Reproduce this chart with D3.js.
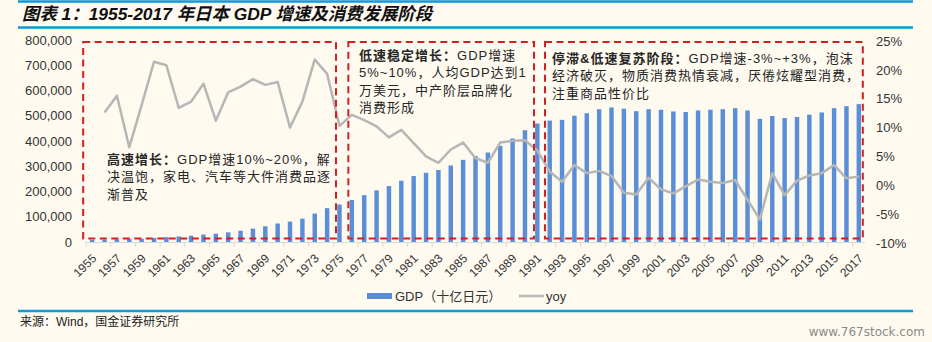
<!DOCTYPE html>
<html>
<head>
<meta charset="utf-8">
<script src="https://cdn.jsdelivr.net/npm/d3@7"></script>
<style>
  html, body { margin: 0; padding: 0; background: #fefaf0; }
  svg { display: block; font-family: 'Liberation Sans', 'Noto Sans CJK SC', sans-serif; }
  .axis-label { font-size: 13px; fill: #333; }
  .year-label { font-size: 12px; fill: #333; }
  .phase-text { font-size: 13px; fill: #262626; letter-spacing: 1px; }
</style>
</head>
<body>
<div id="chart"></div>
<script>
// Japan nominal GDP (billion yen) and its yearly growth rate
const years = [
  1955, 1956, 1957, 1958, 1959, 1960, 1961, 1962, 1963, 1964,
  1965, 1966, 1967, 1968, 1969, 1970, 1971, 1972, 1973, 1974,
  1975, 1976, 1977, 1978, 1979, 1980, 1981, 1982, 1983, 1984,
  1985, 1986, 1987, 1988, 1989, 1990, 1991, 1992, 1993, 1994,
  1995, 1996, 1997, 1998, 1999, 2000, 2001, 2002, 2003, 2004,
  2005, 2006, 2007, 2008, 2009, 2010, 2011, 2012, 2013, 2014,
  2015, 2016, 2017
];

const gdp = [
  8400, 9400, 10900, 11600, 13200, 16000, 19300, 21900, 25100, 29500,
  32900, 38200, 44700, 53000, 62200, 73300, 80700, 92400, 112500, 134200,
  148300, 166600, 185600, 204400, 221500, 242800, 261100, 274100, 285100, 303000,
  325400, 340600, 354200, 380700, 410100, 442800, 469400, 480800, 483700, 500000,
  510000, 526000, 533000, 528000, 518000, 526000, 524000, 517000, 515000, 521000,
  524000, 526000, 530000, 521000, 488000, 499000, 491000, 495000, 504000, 513000,
  530000, 538000, 546000
];

// growth in %, no value for the first year
const yoy = [
  null, 12.6, 15.5, 6.6, 13.9, 21.4, 20.8, 13.4, 14.5, 17.6,
  11.2, 16.1, 17.1, 18.4, 17.4, 17.9, 10.0, 14.5, 21.8, 19.3,
  10.3, 12.2, 11.3, 10.2, 8.3, 9.6, 7.3, 5.0, 3.9, 6.2,
  7.4, 4.7, 3.9, 7.4, 7.7, 7.8, 6.0, 2.4, 0.6, 3.5,
  2.1, 2.5, 1.6, -1.3, -1.6, 1.3, -0.7, -1.4, -0.2, 1.0,
  0.6, 0.4, 0.9, -2.5, -5.9, 2.1, -1.7, 0.8, 1.7, 2.1,
  3.5, 1.2, 1.5
];

const leftTicks = [0, 100000, 200000, 300000, 400000, 500000, 600000, 700000, 800000];
const rightTicks = [-10, -5, 0, 5, 10, 15, 20, 25];

// development phases
const phaseStart = [1955, 1976, 1992];
const phaseEnd = [1975, 1991, 2017];
const phaseTitle = ['高速增长：', '低速稳定增长：', '停滞&低速复苏阶段：'];
const phaseLines = [
  ['GDP增速10%~20%，解', '决温饱，家电、汽车等大件消费品逐', '渐普及'],
  ['GDP增速', '5%~10%，人均GDP达到1', '万美元，中产阶层品牌化', '消费形成'],
  ['GDP增速-3%~+3%，泡沫', '经济破灭，物质消费热情衰减，厌倦炫耀型消费，', '注重商品性价比']
];

const titleText = '图表 1：1955-2017 年日本 GDP 增速及消费发展阶段';
const sourceText = '来源：Wind，国金证券研究所';
const legendNames = ['GDP（十亿日元）', 'yoy'];

const width = 932;
const height = 342;
const plotLeft = 86;
const plotRight = 865;
const plotTop = 40;
const plotBottom = 242;

const barColor = '#5a8fd8';
const lineColor = '#b6b6b6';
const boxColor = '#d21f1f';
const ruleColor = '#0b9ad8';

// box edges relative to the first/last bar of each phase, text offsets
const boxPad = [[-9, -3.5], [-3.5, -3.3], [-4.7, 4]];
const boxTop = 42;
const boxBottom = 238.5;
const textPos = [[107, 159], [359, 55], [552, 58]];
const lineHeight = 17.5;

let svg = d3.select('#chart').append('svg')
  .attr('width', width)
  .attr('height', height)

svg.append('rect')
  .attr('width', width)
  .attr('height', height)
  .attr('fill', '#fefaf0')

// header
svg.append('line')
  .attr('x1', 18).attr('x2', 913)
  .attr('y1', 1.5).attr('y2', 1.5)
  .attr('stroke', ruleColor)
  .attr('stroke-width', 2.5)

svg.append('text')
  .attr('x', 22)
  .attr('y', 14)
  .attr('dy', '0.35em')
  .attr('font-size', 17.4)
  .attr('font-weight', 'bold')
  .attr('font-style', 'italic')
  .attr('fill', '#111')
  .text(titleText)

svg.append('line')
  .attr('x1', 18).attr('x2', 913)
  .attr('y1', 27.5).attr('y2', 27.5)
  .attr('stroke', ruleColor)
  .attr('stroke-width', 2.5)

let x = d3.scaleBand()
  .domain(years)
  .range([plotLeft, plotRight])
  .paddingInner(0.64)
  .paddingOuter(0.32)

let xc = d => x(d) + x.bandwidth() / 2;

let yLeft = d3.scaleLinear()
  .domain([0, 800000])
  .range([plotBottom, plotTop])

let yRight = d3.scaleLinear()
  .domain([-10, 25])
  .range([plotBottom + 1, plotTop + 1])

// axes
let leftAxis = svg.append('g')
  .attr('transform', `translate(${plotLeft - 14}, 0)`)
  .call(d3.axisLeft(yLeft).tickValues(leftTicks).tickSize(0).tickPadding(0)
    .tickFormat(d3.format(',')))
leftAxis.select('.domain').remove()
leftAxis.selectAll('text').attr('class', 'axis-label').attr('fill', null)

let rightAxis = svg.append('g')
  .attr('transform', `translate(${plotRight + 11}, 0)`)
  .call(d3.axisRight(yRight).tickValues(rightTicks).tickSize(0).tickPadding(0)
    .tickFormat(d => d + '%'))
rightAxis.select('.domain').remove()
rightAxis.selectAll('text').attr('class', 'axis-label').attr('fill', null)

// bottom axis line with a tick every two years
let step = x.step();
svg.append('line')
  .attr('x1', plotLeft).attr('x2', plotRight)
  .attr('y1', plotBottom + 0.5).attr('y2', plotBottom + 0.5)
  .attr('stroke', '#d9d9d9')

svg.append('g')
  .selectAll('line')
  .data(years.filter((d, i) => i % 2 === 0))
  .enter().append('line')
    .attr('x1', d => xc(d) - step / 2)
    .attr('x2', d => xc(d) - step / 2)
    .attr('y1', plotBottom)
    .attr('y2', plotBottom + 5)
    .attr('stroke', '#d9d9d9')

svg.append('g')
  .selectAll('text')
  .data(years.filter((d, i) => i % 2 === 0))
  .enter().append('text')
    .classed('year-label', true)
    .attr('transform', d => `translate(${xc(d) + 2}, ${plotBottom + 14}) rotate(-45)`)
    .attr('text-anchor', 'end')
    .attr('dy', '0.35em')
    .text(d => d)

// bars
svg.append('g')
  .selectAll('rect')
  .data(years)
  .enter().append('rect')
    .attr('x', d => x(d))
    .attr('width', x.bandwidth())
    .attr('y', (d, i) => yLeft(gdp[i]))
    .attr('height', (d, i) => yLeft(0) - yLeft(gdp[i]))
    .attr('fill', barColor)

// growth line
let line = d3.line()
  .defined(d => d[1] !== null)
  .x(d => xc(d[0]))
  .y(d => yRight(d[1]))

svg.append('path')
  .datum(years.map((d, i) => [d, yoy[i]]))
  .attr('d', line)
  .attr('fill', 'none')
  .attr('stroke', lineColor)
  .attr('stroke-width', 2.5)
  .attr('stroke-linejoin', 'round')

// phase boxes and notes
let phases = phaseStart.map((d, i) => ({start: d, end: phaseEnd[i], title: phaseTitle[i], lines: phaseLines[i]}));

svg.append('g')
  .selectAll('rect')
  .data(phases)
  .enter().append('rect')
    .attr('x', (d, i) => xc(d.start) + boxPad[i][0])
    .attr('width', (d, i) => xc(d.end) + boxPad[i][1] - xc(d.start) - boxPad[i][0])
    .attr('y', boxTop)
    .attr('height', boxBottom - boxTop)
    .attr('fill', 'none')
    .attr('stroke', boxColor)
    .attr('stroke-width', 2)
    .attr('stroke-dasharray', '7 4.5')

phases.forEach((p, i) => {
  let t = svg.append('text')
    .classed('phase-text', true)
    .attr('x', textPos[i][0])
    .attr('y', textPos[i][1])
    .attr('dy', '0.35em')

  t.append('tspan')
    .attr('font-weight', 'bold')
    .text(p.title)
  t.append('tspan')
    .text(p.lines[0])

  p.lines.slice(1).forEach((l, j) => {
    svg.append('text')
      .classed('phase-text', true)
      .attr('x', textPos[i][0])
      .attr('y', textPos[i][1] + (j + 1) * lineHeight)
      .attr('dy', '0.35em')
      .text(l)
  })
})

// legend
let legend = svg.append('g')
  .attr('font-size', 13)
  .attr('fill', '#333')

legend.append('rect')
  .attr('x', 367).attr('y', 293)
  .attr('width', 25).attr('height', 6)
  .attr('fill', barColor)
legend.append('text')
  .attr('x', 395).attr('y', 296)
  .attr('dy', '0.35em')
  .text(legendNames[0])

legend.append('line')
  .attr('x1', 519).attr('x2', 544)
  .attr('y1', 296).attr('y2', 296)
  .attr('stroke', lineColor)
  .attr('stroke-width', 2.5)
legend.append('text')
  .attr('x', 546).attr('y', 296)
  .attr('dy', '0.35em')
  .text(legendNames[1])

// footer
svg.append('line')
  .attr('x1', 18).attr('x2', 913)
  .attr('y1', 311).attr('y2', 311)
  .attr('stroke', ruleColor)
  .attr('stroke-width', 2.5)

svg.append('text')
  .attr('x', 20)
  .attr('y', 322)
  .attr('dy', '0.35em')
  .attr('font-size', 12)
  .attr('fill', '#222')
  .text(sourceText)

svg.append('text')
  .attr('x', 925)
  .attr('y', 332)
  .attr('dy', '0.35em')
  .attr('text-anchor', 'end')
  .attr('font-family', "'DejaVu Sans', sans-serif")
  .attr('font-size', 12)
  .attr('fill', '#8a8a8a')
  .text('www.767stock.com')
</script>
</body>
</html>
